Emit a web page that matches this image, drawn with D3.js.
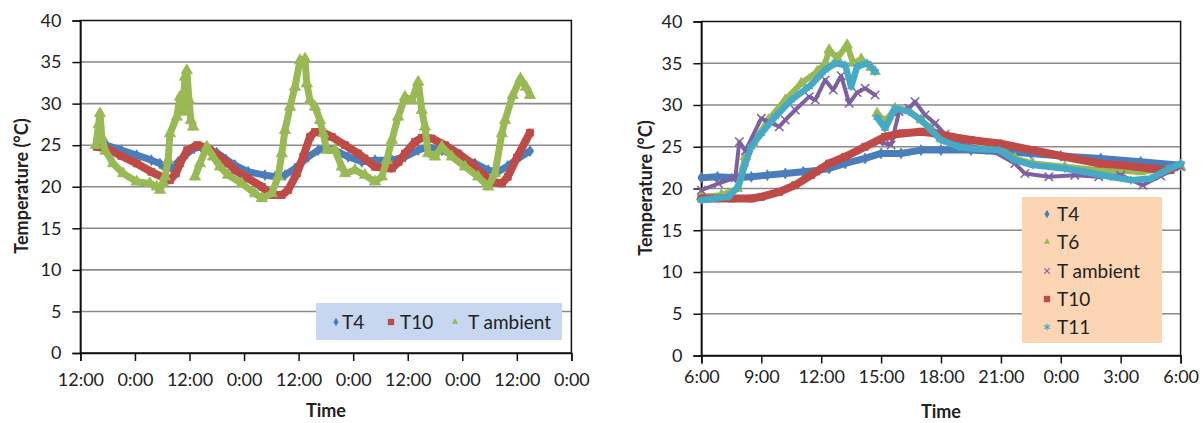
<!DOCTYPE html>
<html><head><meta charset="utf-8">
<script src="https://cdn.jsdelivr.net/npm/d3@7"></script>
<style>
html,body{margin:0;padding:0;background:#fff;}
svg{display:block;font-family:Lato,"Open Sans",sans-serif;}
</style></head>
<body>
<svg id="chart" width="1203" height="423"></svg>
<script>
// ---------- DATA (hours from first tick, temperature °C) ----------
const leftXTickLabels = ["12:00","0:00","12:00","0:00","12:00","0:00","12:00","0:00","12:00","0:00"];
const rightXTickLabels = ["6:00","9:00","12:00","15:00","18:00","21:00","0:00","3:00","6:00"];
const yTickValues = [0,5,10,15,20,25,30,35,40];

const leftT4 = [[3.6,25.2],[5.8,25.0],[9,24.4],[12.4,23.8],[15.6,23.2],[17.5,22.8],[18.8,22.2],[20,22.3],[21.5,23.0],[23.5,24.0],[25,24.6],[26.5,24.8],[28.5,24.4],[30,24.1],[32,23.3],[34,22.6],[36.9,21.8],[40.6,21.4],[42.8,21.2],[45,21.4],[47.2,22.2],[50.1,23.6],[52.3,24.4],[53.8,24.6],[56,24.4],[58.9,23.6],[61.9,23.0],[64.8,23.2],[68.5,23.2],[71.4,23.6],[74.3,24.4],[76.5,24.8],[79.5,24.4],[83.1,23.6],[86.8,22.8],[89.7,22.0],[91.9,21.8],[94,22.5],[96,23.3],[98.9,24.3]];
const leftT10 = [[3.6,24.8],[5.8,24.6],[9,23.7],[12.4,22.8],[15.6,21.8],[18.6,21.0],[19.7,20.8],[21,21.6],[21.9,22.8],[23.5,24.4],[25.6,25.0],[27,24.8],[28.5,24.4],[30.7,23.6],[32.5,22.8],[34,22.0],[36.9,21.0],[39.9,20.0],[42.1,19.0],[44.3,19.0],[45.7,19.6],[47.6,21.6],[49,23.6],[50.5,26.0],[51.6,26.6],[53.1,26.6],[55.3,26.0],[58.2,25.0],[61.1,24.0],[62.5,23.4],[64.8,22.4],[68.5,22.2],[70,23.0],[71.4,24.0],[73.6,25.4],[75.1,25.9],[77.3,25.8],[80.2,25.0],[83.1,24.0],[86.1,22.8],[88.3,21.6],[90.5,20.6],[92.7,20.4],[94,21.2],[96,23.5],[98.9,26.5]];
const leftAmbient = [[3.4,25.0],[4.0,27.5],[4.3,28.8],[4.7,26.0],[5.5,24.3],[7.2,22.8],[9.4,21.6],[12.4,20.6],[15.3,20.4],[16.8,20.0],[17.5,19.6],[18.2,20.5],[18.6,21.2],[19.3,23.2],[19.7,26.4],[21.2,28.4],[21.9,30.8],[22.5,29.0],[23.0,33.2],[23.4,34.0],[23.9,30.4],[24.3,28.0],[24.8,27.2],[25.0,null],[25.2,21.2],[26.3,22.8],[27.8,24.8],[29.2,23.6],[30.7,22.4],[32.5,21.4],[35.5,20.4],[38.4,19.2],[39.9,18.6],[42.1,19.2],[43.5,21.2],[44.3,24.0],[45.0,26.8],[46.1,29.6],[47.2,32.0],[48.3,35.2],[49.4,35.4],[49.8,32.4],[50.5,30.4],[51.6,29.6],[52.7,28.0],[53.4,26.4],[54.2,24.4],[56,24.4],[57.5,22.4],[58.2,21.6],[60.4,22.0],[62.6,21.4],[64.8,20.6],[66.3,21.2],[67.4,23.2],[68.5,25.6],[69.9,28.4],[71.4,30.8],[72.9,30.4],[74.3,32.6],[75.1,29.2],[75.8,27.2],[76.5,24.0],[78.0,23.6],[79.5,24.8],[81.7,23.6],[84.6,22.4],[87.5,21.2],[89.7,20.0],[91.2,21.6],[92.7,26.4],[93.4,28.0],[95.1,31.0],[96.8,33.0],[98.0,32.0],[98.9,31.0]];

const rightT4 = [[0,21.3],[0.8,21.4],[1.7,21.3],[2.5,21.4],[3.3,21.6],[4.2,21.8],[5.1,22.0],[5.9,22.2],[6.4,22.4],[7.2,23.0],[8.2,23.6],[9.0,24.2],[10,24.2],[11,24.6],[12,24.6],[13.5,24.6],[15,24.4],[16.5,24.2],[18,23.9],[20,23.6],[22,23.2],[24,22.8]];
const rightT6 = [[0,19.0],[1.0,19.2],[1.8,20.0],[2.2,23.8],[2.6,25.4],[3.35,28.2],[4.2,30.6],[5.0,32.6],[5.8,34.0],[6.2,35.0],[6.4,36.6],[6.8,35.6],[7.3,37.2],[7.6,35.0],[8.0,35.5],[8.5,34.5],[8.7,34.0],[8.75,null],[8.8,29.0],[9.2,28.0],[9.7,29.6],[10.3,29.4],[11.0,28.2],[11.5,27.2],[12.0,26.0],[12.9,25.2],[13.5,24.9],[15,24.6],[15.7,23.6],[16.6,23.0],[18.2,22.6],[20,22.2],[22,22.0],[24,22.6]];
const rightAmbient = [[0,19.8],[0.85,20.6],[1.7,21.3],[1.9,25.6],[2.2,24.5],[3.0,28.4],[3.9,27.4],[4.2,28.2],[4.7,29.4],[5.4,31.0],[5.7,30.6],[6.2,33.0],[6.6,31.8],[7.0,33.5],[7.4,30.2],[7.8,31.5],[8.2,32.0],[8.7,31.2],[8.8,null],[8.9,25.6],[9.5,25.2],[9.9,29.2],[10.4,29.6],[10.7,30.4],[11.2,28.8],[11.7,27.8],[12.2,26.5],[13.0,25.3],[14.5,24.6],[15.7,23.0],[16.2,21.8],[17.4,21.4],[18.7,21.6],[19.9,21.4],[21,21.6],[22.1,20.4],[23,21.5],[24,22.6]];
const rightT10 = [[0,18.8],[1.5,18.8],[2.5,18.8],[3.0,19.0],[3.9,19.6],[4.7,20.4],[5.5,21.6],[6.4,23.0],[7.2,23.8],[8.2,25.0],[9.2,26.2],[10,26.6],[11,26.8],[11.7,26.6],[12.5,26.2],[13.5,25.8],[14.9,25.4],[16.6,24.6],[18.2,23.8],[19.9,23.0],[21,22.8],[22.5,22.4],[23.5,22.2]];
const rightT11 = [[0,18.6],[0.7,18.8],[1.35,19.0],[1.85,20.2],[2.2,23.0],[2.5,25.0],[3.0,26.6],[3.7,28.6],[4.5,30.6],[5.4,32.2],[6.2,34.2],[6.7,35.0],[7.2,34.8],[7.5,32.2],[7.8,34.6],[8.3,35.0],[8.7,34.0],[8.75,null],[8.8,28.5],[9.2,27.2],[9.7,29.6],[10.4,29.2],[11.0,28.2],[11.5,27.0],[12.0,25.8],[12.9,25.0],[13.5,24.8],[14.9,24.6],[15.7,23.4],[16.6,22.8],[18.2,22.4],[19.2,22.0],[20.5,21.4],[21.5,21.0],[22.5,21.2],[23.3,22.2],[24,23.0]];

const leftLegend = ["T4","T10","T ambient"];
const rightLegend = ["T4","T6","T ambient","T10","T11"];

// ---------- STYLE ----------
const C = {blue:"#4a7ebb", red:"#be4b48", green:"#98b954", purple:"#7d60a0", cyan:"#46aac5"};
const svg = d3.select("#chart");

function drawChart(cfg){
  const g = svg.append("g");
  const x = d3.scaleLinear().domain(cfg.xDomain).range(cfg.xRange);
  const y = d3.scaleLinear().domain([0,40]).range(cfg.yRange);
  g.selectAll(".grid").data(yTickValues.filter(v=>v>0 && v<40)).join("line")
    .attr("x1",cfg.xRange[0]).attr("x2",cfg.xRange[1])
    .attr("y1",d=>y(d)).attr("y2",d=>y(d))
    .attr("stroke","#8a8a8a").attr("stroke-width",1.6);
  g.append("rect").attr("x",cfg.xRange[0]).attr("y",y(40))
    .attr("width",cfg.xRange[1]-cfg.xRange[0]).attr("height",y(0)-y(40))
    .attr("fill","none").attr("stroke","#111").attr("stroke-width",1.5);
  const xa = d3.axisBottom(x).tickValues(cfg.xTicks).tickSize(8).tickPadding(cfg.xPad)
    .tickFormat((d,i)=>cfg.xLabels[i]);
  const ya = d3.axisLeft(y).tickValues(yTickValues).tickSize(8).tickPadding(11);
  const gx = g.append("g").attr("transform",`translate(0,${y(0)})`).call(xa);
  const gy = g.append("g").attr("transform",`translate(${cfg.xRange[0]},0)`).call(ya);
  [gx,gy].forEach(a=>{
    a.select(".domain").attr("stroke","#111").attr("stroke-width",1.5);
    a.selectAll(".tick line").attr("stroke","#111").attr("stroke-width",1.5);
    a.selectAll(".tick text").attr("fill","#222").style("font-size","18px").style("font-family","Lato");
  });
  g.append("text").attr("x",(cfg.xRange[0]+cfg.xRange[1])/2).attr("y",cfg.timeY)
    .attr("text-anchor","middle").style("font-weight","bold").style("font-size","18px").attr("fill","#222").text("Time");
  g.append("text").attr("transform",`translate(${cfg.tempX},${cfg.tempCY}) rotate(-90)`)
    .attr("text-anchor","middle").style("font-weight","bold").style("font-size","18px").attr("fill","#222").text("Temperature (°C)");
  const line = d3.line().defined(d=>d[1]!==null).x(d=>x(d[0])).y(d=>y(d[1]));
  cfg.series.forEach(s=>{
    g.append("path").datum(s.data).attr("d",line).attr("fill","none")
      .attr("stroke",s.color).attr("stroke-width",s.width).attr("stroke-linejoin","round").attr("stroke-linecap","round");
    const sym = d3.symbol().type(s.symbol).size(s.size);
    g.selectAll(null).data(s.data.filter(d=>d[1]!==null)).join("path")
      .attr("transform",d=>`translate(${x(d[0])},${y(d[1])})`).attr("d",sym)
      .attr("fill",s.stroke?"none":s.color).attr("stroke",s.color).attr("stroke-width",s.stroke?1.5:0.8);
  });
  return {x,y};
}

function legendSym(g,s,cx,cy){
  g.append("path").attr("transform",`translate(${cx},${cy})`)
    .attr("d",d3.symbol().type(s.symbol).size(s.lsize)())
    .attr("fill",s.stroke?"none":s.color).attr("stroke",s.color).attr("stroke-width",s.stroke?1.2:0);
}

// ---------- LEFT CHART ----------
const leftSeries = [
  {data:leftT4, color:C.blue, width:7, symbol:d3.symbolDiamond, size:34, lsize:22},
  {data:leftT10, color:C.red, width:8, symbol:d3.symbolSquare, size:48, lsize:40},
  {data:leftAmbient, color:C.green, width:7, symbol:d3.symbolTriangle, size:55, lsize:18}
];
drawChart({xDomain:[0,108], xRange:[80.4,571.4], yRange:[353,20.5],
  xTicks:d3.range(0,109,12), xLabels:leftXTickLabels, xPad:12,
  timeY:417, tempX:28, tempCY:186, series:leftSeries});

const lg = svg.append("g");
lg.append("rect").attr("x",316).attr("y",303).attr("width",246).attr("height",37).attr("fill","#c6d7ef");
const lgX = [336,391,455], lgTX=[342,400,468];
leftLegend.forEach((name,i)=>{
  legendSym(lg,leftSeries[i],lgX[i],322);
  lg.append("text").attr("x",lgTX[i]).attr("y",328.5).style("font-size","19px").attr("fill","#222").text(name);
});

// ---------- RIGHT CHART ----------
const rightSeries = [
  {data:rightT4, color:C.blue, width:7, symbol:d3.symbolDiamond, size:34, lsize:22},
  {data:rightT6, color:C.green, width:6, symbol:d3.symbolTriangle, size:48, lsize:18},
  {data:rightAmbient, color:C.purple, width:4, symbol:d3.symbolTimes, size:48, lsize:20, stroke:true},
  {data:rightT10, color:C.red, width:8, symbol:d3.symbolSquare, size:48, lsize:40},
  {data:rightT11, color:C.cyan, width:6.5, symbol:d3.symbolAsterisk, size:50, lsize:30, stroke:true}
];
drawChart({xDomain:[0,24], xRange:[701.4,1180.6], yRange:[355.5,21.5],
  xTicks:d3.range(0,25,3), xLabels:rightXTickLabels, xPad:7,
  timeY:418, tempX:652, tempCY:188, series:rightSeries});

const rg = svg.append("g");
rg.append("rect").attr("x",1022).attr("y",197).attr("width",140).attr("height",146).attr("fill","#fcd5b4");
const rowY = [214,242,271,299,327];
rightLegend.forEach((name,i)=>{
  legendSym(rg,rightSeries[i],1047,rowY[i]);
  rg.append("text").attr("x",1057).attr("y",rowY[i]+6.5).style("font-size","19px").attr("fill","#222").text(name);
});
</script>
</body></html>
